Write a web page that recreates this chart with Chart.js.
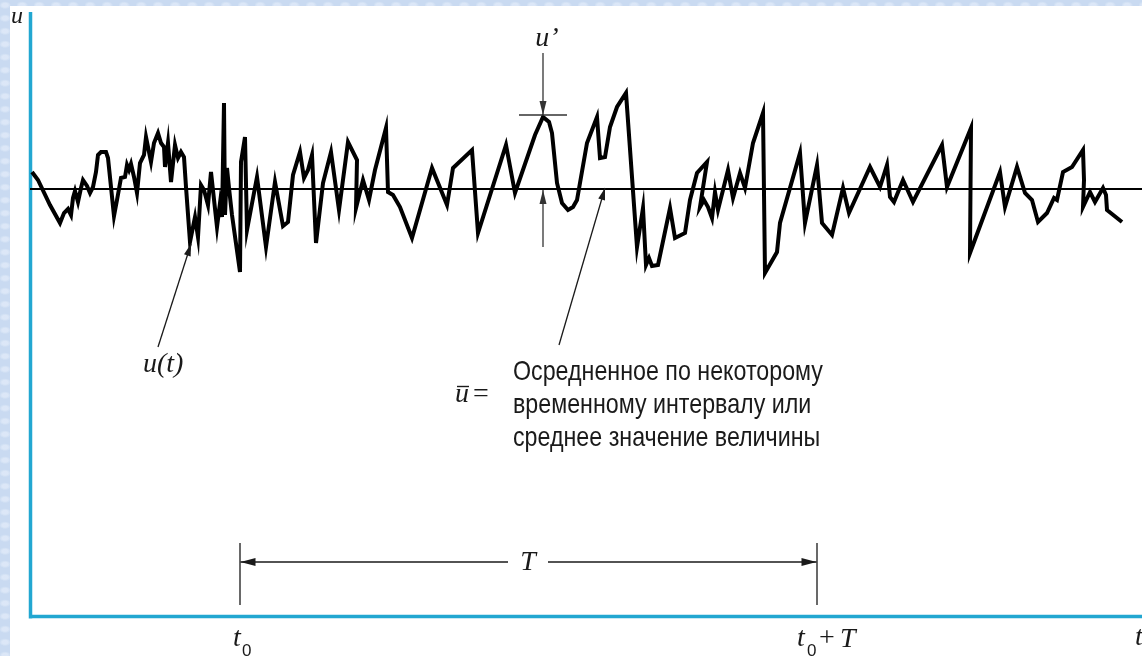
<!DOCTYPE html>
<html>
<head>
<meta charset="utf-8">
<script src="https://cdn.jsdelivr.net/npm/chart.js@4.4.0/dist/chart.umd.min.js"></script>
<style>
  html, body { margin: 0; padding: 0; width: 1142px; height: 656px; overflow: hidden; }
  body {
    background-color: #c9daf1;
    background-image:
      radial-gradient(ellipse at 30% 40%, rgba(235,242,252,0.55) 0 3px, transparent 6px),
      radial-gradient(ellipse at 70% 70%, rgba(170,195,232,0.45) 0 3px, transparent 7px);
    background-size: 17px 13px, 23px 19px;
  }
  #wrap { position: absolute; left: 0; top: 0; width: 1142px; height: 656px; }
</style>
</head>
<body>
<div id="wrap"><canvas id="chart" width="1142" height="656"></canvas></div>
<script>
// Turbulent velocity record u(t): time and instantaneous velocity samples
const timeT = [
  0.2, 0.8, 2.0, 3.0, 3.4, 3.8, 4.1, 4.3, 4.5, 4.8, 5.1, 5.3, 5.7, 6.0, 6.3, 6.6, 6.8, 7.1, 7.6, 7.8,
  8.4, 8.7, 9.1, 9.5, 9.7, 9.9, 10.1, 10.4, 10.7, 11.0, 11.4, 11.6, 12.1, 12.4, 12.8, 13.1, 13.4, 13.5, 13.8, 14.1,
  14.5, 14.8, 15.1, 15.4, 15.6, 16.0, 16.5, 16.8, 17.1, 17.4, 17.8, 18.1, 18.7, 19.0, 19.2, 19.4, 19.5, 19.7, 19.9, 20.2,
  21.0, 21.1, 21.5, 21.7, 22.7, 23.6, 24.5, 25.3, 25.8, 26.3, 27.0, 27.4, 27.8, 28.2, 28.6, 29.3, 30.1, 30.9, 31.8, 32.7,
  32.6, 33.3, 33.9, 34.5, 35.6, 35.8, 36.3, 37.0, 38.2, 40.2, 41.7, 42.3, 44.2, 44.8, 47.6, 48.5, 50.5, 51.3, 51.9, 52.2,
  52.7, 53.2, 53.8, 54.3, 54.7, 55.7, 56.7, 57.0, 57.5, 58.0, 58.7, 59.6, 60.7, 61.3, 61.6, 61.9, 62.2, 62.8, 64.0, 64.5,
  65.5, 66.0, 66.7, 67.7, 67.0, 67.4, 67.8, 68.2, 68.5, 68.8, 69.8, 70.3, 71.0, 71.5, 72.3, 73.3, 73.5, 74.7, 75.0, 77.0,
  77.5, 78.7, 79.2, 80.2, 81.3, 81.9, 84.0, 85.0, 85.7, 86.0, 86.4, 87.3, 88.3, 91.2, 91.7, 94.1, 94.0, 97.0, 97.5, 98.7,
  99.5, 100.2, 100.8, 101.7, 102.4, 102.7, 103.3, 104.2, 105.3, 105.4, 105.3, 106.0, 106.5, 107.3, 107.6, 107.7, 109.2
];
const velocityU = [
  44.5, 43.7, 41.2, 39.4, 40.4, 40.8, 40.2, 41.9, 42.6, 41.5, 42.9, 43.7, 43.1, 42.4, 43.0, 44.5, 46.2, 46.5, 46.5, 45.9,
  40.1, 41.7, 43.9, 44.0, 45.2, 44.7, 45.3, 44.0, 42.4, 45.4, 46.2, 48.0, 45.5, 47.4, 48.4, 47.4, 47.0, 45.0, 47.4, 43.5,
  47.2, 45.9, 46.5, 46.0, 43.0, 37.5, 40.0, 38.0, 43.2, 42.7, 41.2, 44.5, 39.0, 41.4, 40.0, 51.4, 40.2, 44.9, 42.9, 40.2,
  34.5, 45.5, 48.0, 38.7, 44.0, 37.0, 43.5, 39.1, 39.5, 44.2, 46.5, 43.9, 44.7, 46.2, 37.4, 43.4, 46.5, 40.7, 47.5, 45.7,
  40.9, 43.7, 41.7, 44.7, 48.9, 42.5, 42.2, 41.0, 37.9, 44.9, 41.2, 44.9, 46.7, 38.4, 47.2, 42.4, 48.2, 50.0, 49.5, 48.4,
  43.4, 41.4, 40.7, 41.0, 41.7, 47.4, 50.0, 45.9, 46.0, 49.0, 51.0, 52.4, 37.0, 40.9, 35.2, 35.9, 35.1, 35.2, 40.9, 37.9,
  38.4, 41.7, 44.4, 45.5, 41.0, 41.7, 41.0, 39.9, 42.5, 40.7, 44.7, 41.9, 44.4, 42.9, 47.4, 50.4, 34.4, 36.5, 39.4, 46.4,
  39.4, 45.2, 39.4, 38.2, 42.9, 40.4, 45.0, 43.0, 45.2, 42.0, 41.5, 43.7, 41.5, 47.2, 43.0, 48.9, 36.4, 44.5, 41.0, 45.0,
  42.4, 41.7, 39.5, 40.4, 41.9, 41.7, 44.5, 45.0, 46.7, 43.7, 41.0, 42.5, 41.5, 42.9, 42.2, 40.7, 39.5
];

// Time-averaged value of u and the averaging window [t0, t0 + T]
const meanU = 42.8;
const windowStart = 21.0;
const windowLength = 57.7;
// Fluctuation u' marked at one peak of the record
const fluctTime = 51.3;
const fluctLevel = 50.2;

// Axis extents
const tMax = 111.2;
const uMax = 60.5;

const AXIS_BLUE = '#22a7d1';
const INK = '#1a1a1a';
const SERIF = '"Liberation Serif", "Times New Roman", serif';
const SANS = '"Liberation Sans", Arial, sans-serif';

function arrowHead(ctx, tipX, tipY, fromX, fromY, len, half) {
  const a = Math.atan2(tipY - fromY, tipX - fromX);
  ctx.beginPath();
  ctx.moveTo(tipX, tipY);
  ctx.lineTo(tipX - len * Math.cos(a) + half * Math.sin(a), tipY - len * Math.sin(a) - half * Math.cos(a));
  ctx.lineTo(tipX - len * Math.cos(a) - half * Math.sin(a), tipY - len * Math.sin(a) + half * Math.cos(a));
  ctx.closePath();
  ctx.fill();
}

function arrow(ctx, x1, y1, x2, y2, len, half) {
  ctx.beginPath();
  ctx.moveTo(x1, y1);
  ctx.lineTo(x2, y2);
  ctx.stroke();
  arrowHead(ctx, x2, y2, x1, y1, len, half);
}

// White sheet and the blue coordinate axes
const sheetPlugin = {
  id: 'sheet',
  beforeDraw(chart) {
    const { ctx, chartArea: a } = chart;
    ctx.save();
    ctx.fillStyle = '#ffffff';
    ctx.fillRect(10, 6, chart.width - 10, chart.height - 6);
    ctx.strokeStyle = AXIS_BLUE;
    ctx.lineWidth = 3.5;
    ctx.beginPath();
    ctx.moveTo(a.left + 0.5, a.top);
    ctx.lineTo(a.left + 0.5, a.bottom + 1.5);
    ctx.moveTo(a.left - 1, a.bottom - 0.5);
    ctx.lineTo(chart.width, a.bottom - 0.5);
    ctx.stroke();
    ctx.restore();
  }
};

// Labels, pointers and dimension arrows
const notesPlugin = {
  id: 'notes',
  afterDatasetsDraw(chart) {
    const { ctx, chartArea: a } = chart;
    const xs = chart.scales.x, ys = chart.scales.y;
    const X = v => xs.getPixelForValue(v);
    const Y = v => ys.getPixelForValue(v);
    ctx.save();
    ctx.fillStyle = INK;
    ctx.strokeStyle = INK;
    ctx.lineWidth = 1.3;

    // axis names
    ctx.font = 'italic 24px ' + SERIF;
    ctx.textBaseline = 'alphabetic';
    ctx.textAlign = 'left';
    ctx.fillText('u', a.left - 19, a.top + 11);
    ctx.font = 'italic 28px ' + SERIF;
    ctx.fillText('t', chart.width - 7, a.bottom + 28);

    // u' : fluctuation about the mean
    const fx = X(fluctTime);
    const fy = Y(fluctLevel);
    const my = Y(meanU);
    ctx.strokeStyle = '#333';
    ctx.fillStyle = '#333';
    ctx.beginPath();
    ctx.moveTo(fx - 24, fy);
    ctx.lineTo(fx + 24, fy);
    ctx.stroke();
    arrow(ctx, fx, fy - 62, fx, fy, 14, 3.5);
    arrow(ctx, fx, my + 58, fx, my + 1, 14, 3.5);
    ctx.fillStyle = INK;
    ctx.font = 'italic 28px ' + SERIF;
    ctx.textAlign = 'center';
    ctx.fillText('u\u2019', fx + 4, fy - 69);

    // pointer to the signal u(t)
    ctx.strokeStyle = INK;
    ctx.fillStyle = INK;
    arrow(ctx, X(12.8), Y(27.0), X(16.1), Y(37.3), 12, 3.5);
    ctx.font = 'italic 28px ' + SERIF;
    ctx.textAlign = 'left';
    ctx.fillText('u(t)', X(11.3), Y(24.5));

    // pointer to the mean line
    arrow(ctx, X(52.9), Y(27.2), X(57.5), Y(42.9), 12, 3.5);
    const bx = X(42.5), by = Y(21.5);
    ctx.fillText('u', bx, by);
    ctx.lineWidth = 1.4;
    ctx.beginPath();
    ctx.moveTo(bx + 2, by - 15.5);
    ctx.lineTo(bx + 14, by - 15.5);
    ctx.stroke();
    ctx.font = '28px ' + SERIF;
    ctx.fillText('=', bx + 18, by);

    // description of the mean value
    const lines = [
      'Осредненное по некоторому',
      'временному интервалу или',
      'среднее значение величины'
    ];
    ctx.font = '28px ' + SANS;
    const tx = X(48.3);
    const baseY = Y(23.7);
    lines.forEach((s, i) => {
      ctx.save();
      ctx.translate(tx, baseY + i * 33);
      ctx.scale(0.83, 1);
      ctx.fillText(s, 0, 0);
      ctx.restore();
    });

    // averaging window T
    const x0 = X(windowStart), x1 = X(windowStart + windowLength);
    const ay = Y(5.5);
    ctx.lineWidth = 1.3;
    ctx.beginPath();
    ctx.moveTo(x0, Y(7.4)); ctx.lineTo(x0, Y(1.2));
    ctx.moveTo(x1, Y(7.4)); ctx.lineTo(x1, Y(1.2));
    ctx.stroke();
    const midX = (x0 + x1) / 2 - 0.5;
    arrow(ctx, midX - 20, ay, x0 + 0.5, ay, 15, 4);
    arrow(ctx, midX + 20, ay, x1 - 0.5, ay, 15, 4);
    ctx.font = 'italic 28px ' + SERIF;
    ctx.textAlign = 'center';
    ctx.textBaseline = 'middle';
    ctx.fillText('T', midX, ay + 1);

    // time marks under the axis
    ctx.textBaseline = 'alphabetic';
    ctx.textAlign = 'left';
    ctx.font = 'italic 28px ' + SERIF;
    ctx.fillText('t', x0 - 7, a.bottom + 29);
    ctx.font = '17px ' + SANS;
    ctx.fillText('0', x0 + 2, a.bottom + 39);
    ctx.font = 'italic 28px ' + SERIF;
    ctx.fillText('t', x1 - 20, a.bottom + 29);
    ctx.font = '17px ' + SANS;
    ctx.fillText('0', x1 - 10, a.bottom + 39);
    ctx.font = '28px ' + SERIF;
    ctx.fillText('+', x1 + 2, a.bottom + 29);
    ctx.font = 'italic 28px ' + SERIF;
    ctx.fillText('T', x1 + 23, a.bottom + 30);

    ctx.restore();
  }
};

const signal = timeT.map((t, i) => ({ x: t, y: velocityU[i] }));
const meanLine = [{ x: 0, y: meanU }, { x: tMax, y: meanU }];

new Chart(document.getElementById('chart'), {
  type: 'line',
  data: {
    datasets: [
      {
        label: 'u(t)',
        data: signal,
        borderColor: '#000',
        borderWidth: 4,
        pointRadius: 0,
        tension: 0,
        borderJoinStyle: 'miter',
        fill: false,
        order: 1
      },
      {
        label: 'ū',
        data: meanLine,
        borderColor: '#000',
        borderWidth: 2,
        pointRadius: 0,
        fill: false,
        order: 2
      }
    ]
  },
  options: {
    responsive: false,
    animation: false,
    devicePixelRatio: 1,
    layout: { padding: { left: 30, top: 12, right: 0, bottom: 39 } },
    scales: {
      x: { type: 'linear', min: 0, max: tMax, display: false },
      y: { type: 'linear', min: 0, max: uMax, display: false }
    },
    plugins: {
      legend: { display: false },
      tooltip: { enabled: false }
    },
    events: []
  },
  plugins: [sheetPlugin, notesPlugin]
});
</script>
</body>
</html>
